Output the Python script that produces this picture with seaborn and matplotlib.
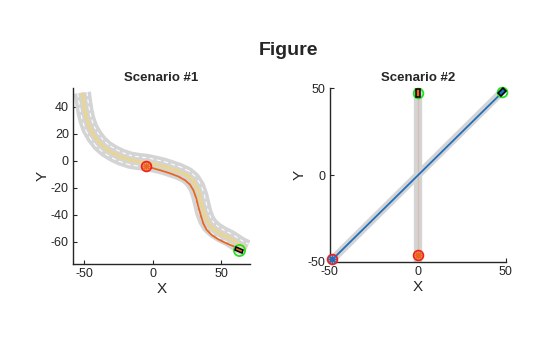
import numpy as np
import pandas as pd
import seaborn as sns
import matplotlib
matplotlib.use("Agg")
import matplotlib.pyplot as plt
from matplotlib.markers import MarkerStyle
from matplotlib.transforms import Affine2D

sns.set_theme(style="white")
plt.rcParams["font.family"] = ["Liberation Sans", "DejaVu Sans"]
plt.rcParams["lines.scale_dashes"] = False
plt.rcParams["axes.unicode_minus"] = False

# ---- Scenario #1: S-shaped road centre line and ego trajectory ----
road1_x = [-51.5, -50.6, -49.5, -48.0, -45.9, -42.6, -38.6, -34.0, -28.8, -23.0,
           -16.6, -10.5, -4.4, 2.0, 7.5, 12.7, 19.0, 24.9, 29.0, 32.2,
           34.3, 35.8, 37.3, 39.5, 42.0, 45.6, 50.5, 56.5, 63.9, 68.8]
road1_y = [50.5, 43.5, 36.3, 30.0, 24.0, 18.2, 12.9, 8.8, 5.5, 2.7,
           0.5, -0.5, -1.2, -2.6, -3.9, -5.6, -7.8, -10.6, -14.2, -19.3,
           -25.3, -31.6, -38.0, -43.9, -48.0, -51.3, -54.5, -57.5, -62.4, -64.9]
ego1_x = [-5.2, 2.0, 7.5, 12.7, 18.5, 23.6, 27.2, 29.7, 31.8, 33.4,
          35.2, 37.0, 39.5, 43.2, 48.0, 54.1, 59.0, 62.6, 63.4]
ego1_y = [-3.9, -6.0, -7.6, -9.3, -11.5, -14.3, -17.5, -21.7, -27.5, -34.1,
          -40.5, -46.4, -51.2, -55.0, -58.2, -61.2, -63.3, -64.9, -66.2]

# ---- Scenario #2: two straight roads and two vehicle paths ----
road2a_x, road2a_y = [-50, 50], [-50, 50]
road2b_x, road2b_y = [0, 0], [-50, 50]
veh2a_x, veh2a_y = [-48.5, 48.0], [-48.5, 47.5]
veh2b_x, veh2b_y = [0, 0], [-46.0, 47.0]

ROAD_GRAY = "#D4D4D4"
YELLOW = "#F5D76E"
ORANGE = "#E8661E"
BLUE = "#1F6FC0"
RED = "#F02020"
GREEN = "#22E022"
INK = "#262626"


def car_marker(angle):
    return MarkerStyle("s", transform=Affine2D().scale(1.9, 1.0).rotate_deg(angle))


def draw_road(ax, x, y):
    """Layered strokes along the centre line: surface, lane dashes, double yellow."""
    kw = dict(solid_capstyle="butt", solid_joinstyle="round",
              dash_capstyle="butt", dash_joinstyle="round")
    ax.plot(x, y, color=ROAD_GRAY, lw=12.5, zorder=1, **kw)
    ax.plot(x, y, color="white", lw=7.4, ls=(0, (3.0, 2.2)), zorder=1.1, **kw)
    ax.plot(x, y, color=ROAD_GRAY, lw=5.9, zorder=1.2, **kw)
    ax.plot(x, y, color=YELLOW, lw=2.1, zorder=1.3, **kw)
    ax.plot(x, y, color=ROAD_GRAY, lw=0.6, zorder=1.4, **kw)


def style_axes(ax, xlim, ylim, xticks, yticks, title):
    ax.set_xlim(*xlim)
    ax.set_ylim(*ylim)
    ax.set_xticks(xticks)
    ax.set_yticks(yticks)
    for s in ("top", "right"):
        ax.spines[s].set_visible(False)
    for s in ("left", "bottom"):
        ax.spines[s].set_color(INK)
        ax.spines[s].set_linewidth(1.0)
    ax.tick_params(direction="in", length=3, width=0.8, colors=INK,
                   labelsize=9, pad=3, left=True, bottom=True)
    ax.set_xlabel("X", fontsize=11, color=INK, labelpad=1)
    ax.set_ylabel("Y", fontsize=11, color=INK, labelpad=1)
    ax.set_title(title, fontsize=9.5, fontweight="bold", color=INK, pad=5)


fig = plt.figure(figsize=(5.6, 3.37), dpi=100)
fig.patch.set_facecolor("white")
ax1 = fig.add_axes([0.1304, 0.2166, 0.316, 0.522])
ax2 = fig.add_axes([0.589, 0.2226, 0.314, 0.516])

# Scenario #1
draw_road(ax1, road1_x, road1_y)

ego1 = pd.DataFrame({"x": ego1_x, "y": ego1_y})
sns.lineplot(data=ego1, x="x", y="y", sort=False, color=ORANGE, lw=1.3,
             ax=ax1, zorder=3)
ax1.plot(ego1_x[0], ego1_y[0], marker="o", ms=7, mfc="#FF9A70", mec=RED,
         mew=1.3, zorder=4)
ax1.plot(ego1_x[0], ego1_y[0], marker=(8, 2, 0), ms=6, mec=ORANGE, mew=0.8,
         zorder=5)
ax1.plot(ego1_x[-1], ego1_y[-1], marker="o", ms=8, mfc="none", mec=GREEN,
         mew=1.3, zorder=4)
ax1.plot(ego1_x[-1], ego1_y[-1], marker=car_marker(-25), ms=2.8, mfc=ORANGE,
         mec="black", mew=1.1, zorder=5)

style_axes(ax1, (-58.3, 71.2), (-76.5, 53.9), [-50, 0, 50],
           [-60, -40, -20, 0, 20, 40], "Scenario #1")

# Scenario #2
ax2.plot(road2a_x, road2a_y, color=ROAD_GRAY, lw=5.5, solid_capstyle="butt", zorder=1)
ax2.plot(road2b_x, road2b_y, color=ROAD_GRAY, lw=6.0, solid_capstyle="butt", zorder=1)

veh2 = pd.DataFrame({
    "x": veh2a_x + veh2b_x,
    "y": veh2a_y + veh2b_y,
    "vehicle": ["a", "a", "b", "b"],
})
sns.lineplot(data=veh2, x="x", y="y", hue="vehicle", palette=[BLUE, ORANGE],
             sort=False, lw=1.3, legend=False, ax=ax2, zorder=3)

for vx, vy, col, ang in ((veh2a_x, veh2a_y, BLUE, 45), (veh2b_x, veh2b_y, ORANGE, 90)):
    ax2.plot(vx[0], vy[0], marker="o", ms=7, mfc="#FF9A70", mec=RED, mew=1.3,
             zorder=4, clip_on=False)
    ax2.plot(vx[0], vy[0], marker=(8, 2, 0), ms=6, mec=col, mew=0.9, zorder=5,
             clip_on=False)
    ax2.plot(vx[-1], vy[-1], marker="o", ms=7, mfc="none", mec=GREEN, mew=1.3,
             zorder=4, clip_on=False)
    ax2.plot(vx[-1], vy[-1], marker=car_marker(ang), ms=2.8, mfc=col,
             mec="black", mew=1.1, zorder=5, clip_on=False)

style_axes(ax2, (-50, 50), (-50, 50), [-50, 0, 50], [-50, 0, 50], "Scenario #2")

fig.text(0.515, 0.85, "Figure", ha="center", va="center", fontsize=14,
         fontweight="bold", color=INK)

fig.savefig("out.png", dpi=100, facecolor="white")
